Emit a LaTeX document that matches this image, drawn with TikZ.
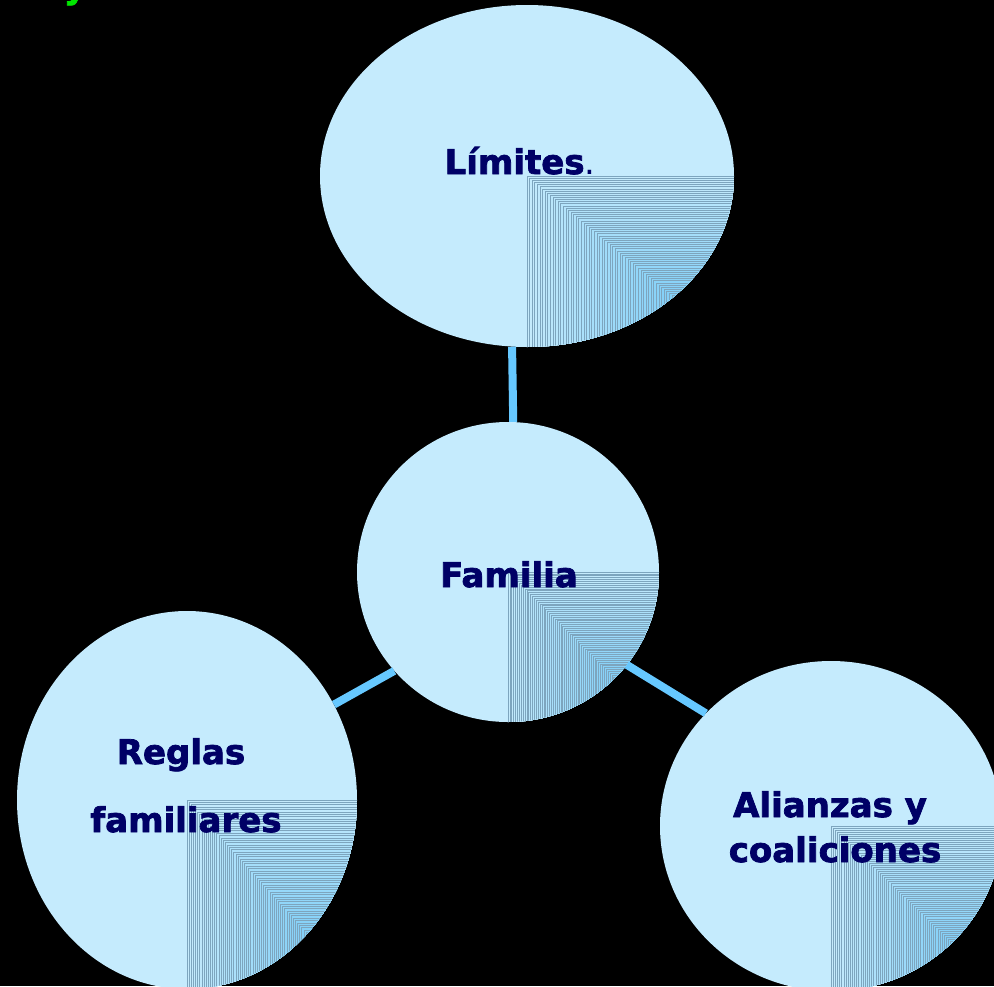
\documentclass[tikz,border=0pt]{standalone}
\usepackage{fontspec}
\setmainfont{DejaVu Sans}[BoldFeatures={FakeBold=2.2}]
\usetikzlibrary{shapes.geometric}
\definecolor{bubfill}{RGB}{197,235,253}
\definecolor{bubdeep}{RGB}{102,196,245}
\definecolor{stripecol}{RGB}{125,165,190}
\definecolor{conncol}{RGB}{102,200,255}
\definecolor{navytext}{RGB}{0,0,102}
\definecolor{titlegreen}{RGB}{0,230,0}
\newcommand\bubshade[4]{%
 \begin{scope}
 \clip (#1,#2) ellipse [x radius=#3pt, y radius=#4pt];
 \foreach \i in {0,...,79}{
   \pgfmathsetmacro\pc{100*\i/79}
   \filldraw[fill=bubdeep!\pc!bubfill, draw=stripecol, line width=0.6pt]
     ({#1+\i*#3/80},{#2+\i*#4/80}) rectangle ({#1+#3+5},{#2+#4+5});
 }
 \end{scope}}
\begin{document}
\begin{tikzpicture}[x=1pt,y=-1pt,
  bubble/.style={ellipse, fill=bubfill, inner sep=0pt, draw=none},
  conn/.style={draw=conncol, line width=8pt},
  lbl/.style={font=\fontsize{34}{41}\selectfont\bfseries, text=navytext, inner sep=0pt, anchor=base}]
\useasboundingbox (0,0) rectangle (994,986);
\clip (0,0) rectangle (994,986);
\fill[black] (0,0) rectangle (994,986);
\node[lbl, text=titlegreen] (ttl) at (75,-2) {y};
% bubbles
\node[bubble, minimum width=414pt, minimum height=342pt] (lim) at (527,176) {};
\node[bubble, minimum width=302pt, minimum height=300pt] (fam) at (508,572) {};
\node[bubble, minimum width=340pt, minimum height=378pt] (reg) at (187,800) {};
\node[bubble, minimum width=342pt, minimum height=330pt] (ali) at (831,826) {};
\bubshade{527}{176}{207}{171}
\bubshade{508}{572}{151}{150}
\bubshade{187}{800}{170}{189}
\bubshade{831}{826}{171}{165}
% connectors
\draw[conn] (fam.88) -- (lim.265);
\draw[conn] (fam.221) -- (reg.33);
\draw[conn] (fam.322) -- (ali.138);
% labels
\node[lbl] (limt) at (520,174) {Límites\textmd{.}};
\node[lbl] (famt) at (509,587) {Familia};
\node[lbl] (regt1) at (181,764) {Reglas};
\node[lbl] (regt2) at (186,832) {familiares};
\node[lbl] (alit1) at (830,817) {Alianzas y};
\node[lbl] (alit2) at (835,862) {coaliciones};
\end{tikzpicture}
\end{document}
